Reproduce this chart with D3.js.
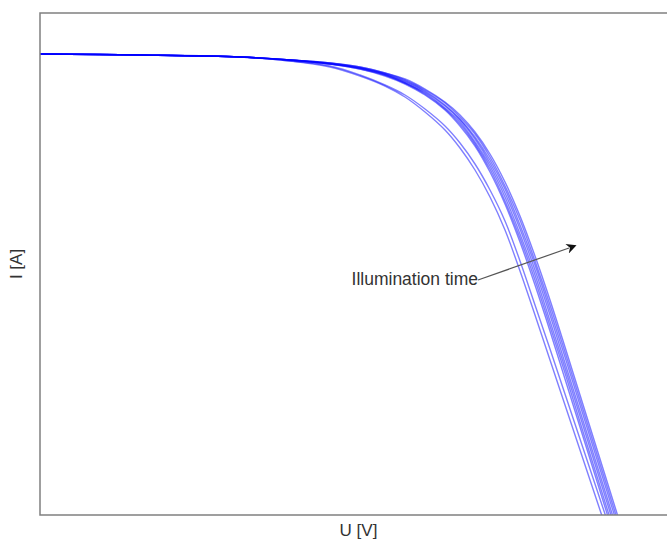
<!DOCTYPE html>
<html>
<head>
<meta charset="utf-8">
<script src="https://cdn.jsdelivr.net/npm/d3@7"></script>
<style>
  body { margin: 0; background: #fff; }
  text { font-family: "Liberation Sans", Arial, sans-serif; fill: #333; }
</style>
</head>
<body>
<div id="chart"></div>
<script>
// Voltage samples [V], shared by all curves
const voltage = [0, 0.10, 0.20, 0.25, 0.29, 0.32, 0.345, 0.365, 0.385, 0.405, 0.42,
    0.435, 0.45, 0.465, 0.48, 0.495, 0.51, 0.525, 0.54, 0.555, 0.57, 0.585];

// Current [A] per curve, early illumination (two lower curves)
const early1 = [4.61, 4.60, 4.58, 4.54, 4.48, 4.39, 4.29, 4.18, 4.03, 3.85, 3.67, 3.45, 3.18, 2.85, 2.44, 2.00, 1.55, 1.10, 0.65, 0.20, -0.25, -0.70];
const early2 = [4.61, 4.60, 4.58, 4.54, 4.49, 4.40, 4.30, 4.20, 4.06, 3.89, 3.72, 3.51, 3.25, 2.94, 2.54, 2.10, 1.66, 1.21, 0.76, 0.31, -0.14, -0.59];
// later illumination (main bundle)
const late1 = [4.61, 4.60, 4.58, 4.55, 4.51, 4.46, 4.39, 4.31, 4.20, 4.05, 3.89, 3.69, 3.43, 3.11, 2.73, 2.30, 1.84, 1.36, 0.88, 0.40, -0.08, -0.56];
const late2 = [4.61, 4.60, 4.58, 4.55, 4.51, 4.46, 4.40, 4.32, 4.21, 4.06, 3.91, 3.71, 3.46, 3.14, 2.77, 2.35, 1.89, 1.42, 0.93, 0.45, -0.03, -0.51];
const late3 = [4.61, 4.60, 4.58, 4.55, 4.51, 4.47, 4.40, 4.32, 4.22, 4.07, 3.93, 3.73, 3.49, 3.18, 2.81, 2.40, 1.94, 1.47, 0.99, 0.51, 0.03, -0.45];
const late4 = [4.61, 4.60, 4.58, 4.55, 4.51, 4.47, 4.41, 4.33, 4.23, 4.09, 3.95, 3.76, 3.52, 3.22, 2.86, 2.45, 2.00, 1.52, 1.04, 0.56, 0.08, -0.40];
const late5 = [4.61, 4.60, 4.58, 4.55, 4.52, 4.47, 4.41, 4.34, 4.24, 4.10, 3.96, 3.78, 3.55, 3.26, 2.90, 2.50, 2.05, 1.58, 1.10, 0.62, 0.14, -0.34];
const late6 = [4.61, 4.60, 4.58, 4.55, 4.52, 4.48, 4.42, 4.35, 4.25, 4.12, 3.98, 3.81, 3.58, 3.29, 2.95, 2.54, 2.10, 1.63, 1.15, 0.67, 0.19, -0.29];
const late7 = [4.61, 4.60, 4.58, 4.55, 4.52, 4.48, 4.42, 4.36, 4.26, 4.13, 4.00, 3.83, 3.61, 3.33, 2.99, 2.59, 2.15, 1.68, 1.20, 0.72, 0.24, -0.24];

const curves = [early1, early2, late1, late2, late3, late4, late5, late6, late7];

// Annotation: arrow [U, I] start and end, label text
const arrowStart = [0.438, 2.35];
const arrowEnd = [0.537, 2.70];
const annotationText = "Illumination time";

const width = 667, height = 541;
const margin = { top: 13, right: 0, bottom: 26, left: 40 };

const svg = d3.select("#chart")
    .append("svg")
    .attr("width", width)
    .attr("height", height);

const x = d3.scaleLinear()
    .domain([0, 0.627])
    .range([margin.left, width - margin.right]);

const y = d3.scaleLinear()
    .domain([0, 5.02])
    .range([height - margin.bottom, margin.top]);

svg.append("clipPath")
    .attr("id", "plot-clip")
    .append("rect")
    .attr("x", x(0))
    .attr("y", y(5.02))
    .attr("width", x(0.627) - x(0))
    .attr("height", y(0) - y(5.02));

const line = d3.line()
    .x((d, i) => x(voltage[i]))
    .y(d => y(d))
    .curve(d3.curveCatmullRom.alpha(0.5));

svg.append("g")
    .attr("clip-path", "url(#plot-clip)")
    .selectAll(".iv")
    .data(curves)
    .enter()
    .append("path")
    .attr("class", "iv")
    .attr("d", line)
    .attr("fill", "none")
    .attr("stroke", "#0000ff")
    .attr("stroke-opacity", 0.5)
    .attr("stroke-width", 1.4);

// Axes frame (left, top, bottom), no ticks
svg.append("path")
    .attr("d", `M${x(0.627) + 5},${y(5.02)}H${x(0)}V${y(0)}H${x(0.627) + 5}`)
    .attr("fill", "none")
    .attr("stroke", "#808080")
    .attr("stroke-width", 1.5);

// Arrow
svg.append("defs").append("marker")
    .attr("id", "arrowhead")
    .attr("viewBox", "0 0 10 10")
    .attr("refX", 2)
    .attr("refY", 5)
    .attr("markerWidth", 15)
    .attr("markerHeight", 10)
    .attr("markerUnits", "userSpaceOnUse")
    .attr("orient", "auto")
    .append("path")
    .attr("d", "M0,0L10,5L0,10L3,5Z")
    .attr("fill", "#111");

svg.append("line")
    .attr("x1", x(arrowStart[0]))
    .attr("y1", y(arrowStart[1]))
    .attr("x2", x(arrowEnd[0]) - 8)
    .attr("y2", y(arrowEnd[1]) + 3)
    .attr("stroke", "#555")
    .attr("stroke-width", 1.2)
    .attr("marker-end", "url(#arrowhead)");

svg.append("text")
    .attr("x", x(arrowStart[0]))
    .attr("y", y(arrowStart[1]) + 5)
    .attr("text-anchor", "end")
    .attr("font-size", 17.5)
    .text(annotationText);

// Axis labels
svg.append("text")
    .attr("x", (x(0) + width) / 2 + 5)
    .attr("y", 536)
    .attr("text-anchor", "middle")
    .attr("font-size", 17)
    .text("U [V]");

svg.append("text")
    .attr("transform", `translate(22,${(y(0) + y(5.02)) / 2}) rotate(-90)`)
    .attr("text-anchor", "middle")
    .attr("font-size", 17)
    .text("I [A]");
</script>
</body>
</html>
